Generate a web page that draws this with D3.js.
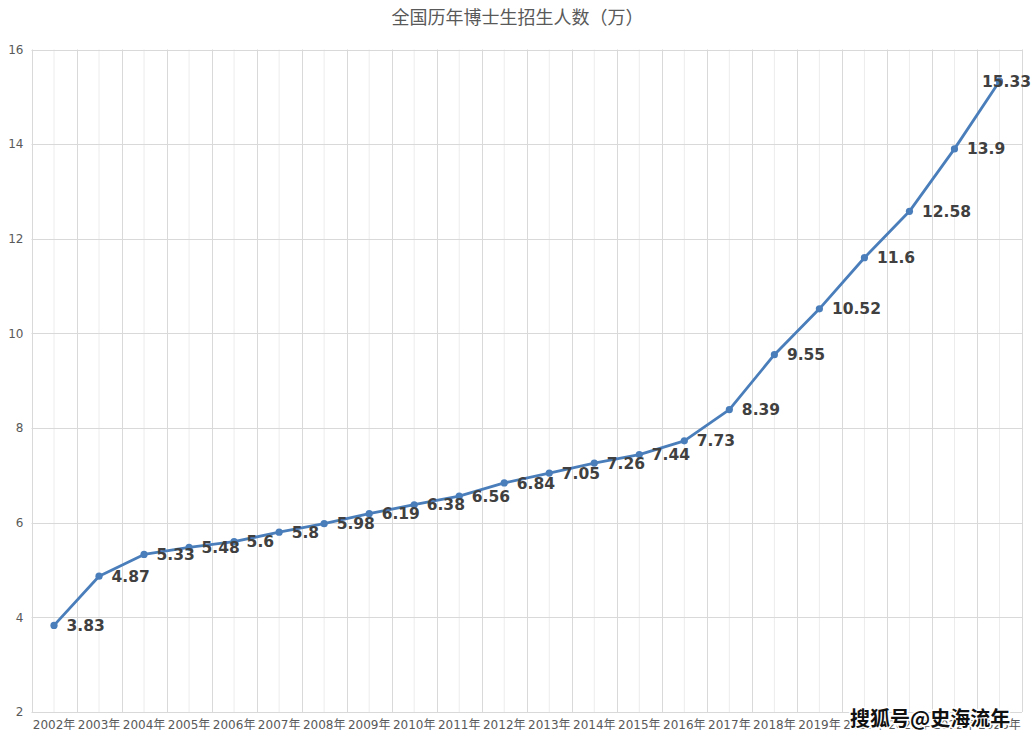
<!DOCTYPE html>
<html>
<head>
<meta charset="utf-8">
<script src="https://cdn.jsdelivr.net/npm/d3@7"></script>
<style>
  body { margin: 0; background: #fff; }
  svg { display: block; }
</style>
</head>
<body>
<svg id="chart" width="1035" height="741"></svg>
<script>
const years = ["2002", "2003", "2004", "2005", "2006", "2007", "2008", "2009", "2010", "2011", "2012",
  "2013", "2014", "2015", "2016", "2017", "2018", "2019", "2020", "2021", "2022", "2023"];
const enrolment = [3.83, 4.87, 5.33, 5.48, 5.6, 5.8, 5.98, 6.19, 6.38, 6.56, 6.84,
  7.05, 7.26, 7.44, 7.73, 8.39, 9.55, 10.52, 11.6, 12.58, 13.9, 15.33];
const yTicks = [2, 4, 6, 8, 10, 12, 14, 16];

const titleText = "全国历年博士生招生人数（万）";
const watermark = "搜狐号@史海流年";

const svg = d3.select("#chart");
const width = 1035;
const margin = { top: 49.5, right: 13, bottom: 29, left: 31.5 };
const plotRight = width - margin.right;
const plotBottom = 741 - margin.bottom;

const fontFamily = "'DejaVu Sans', 'Noto Sans CJK SC', sans-serif";

const x = d3.scaleBand()
  .domain(years)
  .range([margin.left, plotRight])
  .padding(0);

const y = d3.scaleLinear()
  .domain([2, 16])
  .range([plotBottom, margin.top]);

const cx = d => x(d) + x.bandwidth() / 2;

// minor vertical gridlines (band centres)
svg.append("g")
  .selectAll("line")
  .data(years)
  .join("line")
  .attr("x1", d => cx(d))
  .attr("x2", d => cx(d))
  .attr("y1", margin.top)
  .attr("y2", plotBottom)
  .attr("stroke", "#ececec")
  .attr("stroke-width", 1);

// major vertical gridlines (band edges)
svg.append("g")
  .selectAll("line")
  .data(years.concat(["end"]))
  .join("line")
  .attr("x1", (d, i) => Math.round(margin.left + i * x.bandwidth()) + 0.5)
  .attr("x2", (d, i) => Math.round(margin.left + i * x.bandwidth()) + 0.5)
  .attr("y1", margin.top)
  .attr("y2", plotBottom)
  .attr("stroke", "#d9d9d9")
  .attr("stroke-width", 1);

// horizontal gridlines
svg.append("g")
  .selectAll("line")
  .data(yTicks)
  .join("line")
  .attr("x1", margin.left)
  .attr("x2", plotRight)
  .attr("y1", d => Math.round(y(d)) + 0.5)
  .attr("y2", d => Math.round(y(d)) + 0.5)
  .attr("stroke", "#d9d9d9")
  .attr("stroke-width", 1);

// y axis labels
const yAxis = d3.axisLeft(y).tickValues(yTicks).tickSize(0).tickPadding(8);
svg.append("g")
  .attr("transform", `translate(${margin.left},0)`)
  .call(yAxis)
  .call(g => g.select(".domain").remove())
  .selectAll("text")
  .attr("font-family", fontFamily)
  .attr("font-size", 12)
  .attr("fill", "#595959");

// x axis labels
const xAxis = d3.axisBottom(x).tickSize(0).tickPadding(8).tickFormat(d => d + "年");
svg.append("g")
  .attr("transform", `translate(0,${plotBottom})`)
  .call(xAxis)
  .call(g => g.select(".domain").remove())
  .selectAll("text")
  .attr("font-family", fontFamily)
  .attr("font-size", 12)
  .attr("fill", "#595959");

// title
svg.append("text")
  .attr("x", width / 2)
  .attr("y", 24)
  .attr("text-anchor", "middle")
  .attr("font-family", "'Noto Sans CJK SC', sans-serif")
  .attr("font-size", 18)
  .attr("fill", "#595959")
  .text(titleText);

const points = years.map((d, i) => ({ year: d, value: enrolment[i] }));

// line
svg.append("path")
  .datum(points)
  .attr("fill", "none")
  .attr("stroke", "#4a7ebb")
  .attr("stroke-width", 2.8)
  .attr("stroke-linejoin", "round")
  .attr("d", d3.line().x(d => cx(d.year)).y(d => y(d.value)));

// markers
svg.append("g")
  .selectAll("circle")
  .data(points)
  .join("circle")
  .attr("cx", d => cx(d.year))
  .attr("cy", d => y(d.value))
  .attr("r", 3.6)
  .attr("fill", "#4a7ebb");

// data labels
svg.append("g")
  .selectAll("text")
  .data(points)
  .join("text")
  .attr("x", (d, i) => i === points.length - 1 ? width - 4 : cx(d.year) + 12.5)
  .attr("y", d => y(d.value))
  .attr("dy", "0.36em")
  .attr("text-anchor", (d, i) => i === points.length - 1 ? "end" : "start")
  .attr("font-family", fontFamily)
  .attr("font-size", 15.5)
  .attr("font-weight", "bold")
  .attr("fill", "#404040")
  .text(d => d.value);

// watermark
svg.append("text")
  .attr("x", 850)
  .attr("y", 726)
  .attr("font-family", "'Noto Sans CJK SC', sans-serif")
  .attr("font-size", 20)
  .attr("font-weight", "bold")
  .attr("fill", "#111")
  .attr("stroke", "#fff")
  .attr("stroke-width", 3)
  .attr("paint-order", "stroke")
  .text(watermark);
</script>
</body>
</html>
